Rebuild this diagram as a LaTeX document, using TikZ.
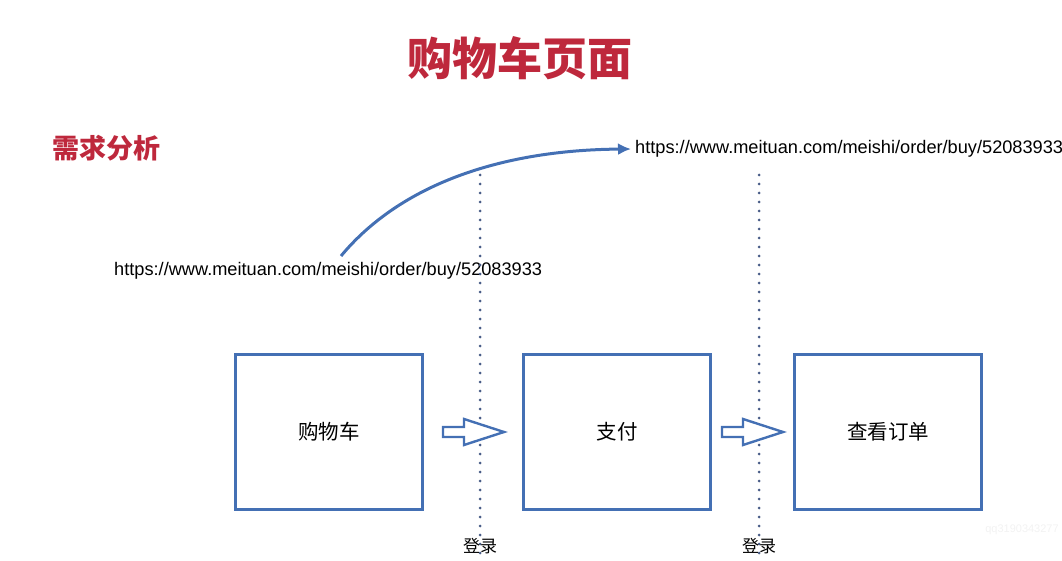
\documentclass[tikz,border=0pt]{standalone}
\usepackage{fontspec}
\setmainfont{Liberation Sans}
\newfontfamily\cjk{Noto Sans CJK SC}
\usetikzlibrary{arrows.meta,positioning}
\definecolor{titlered}{RGB}{190,40,60}
\definecolor{boxblue}{RGB}{68,112,180}
\definecolor{dotgray}{RGB}{72,92,135}
\tikzset{
  pagebox/.style={box/.style={draw=boxblue, line width=2.8pt, minimum width=187pt, minimum height=155pt, inner sep=0pt, font=\cjk\fontsize{20.5}{24}\selectfont}},
  url/.style={anchor=west, inner sep=0pt, font=\fontsize{18.2}{20}\selectfont},
  gate/.style={dotgray, line width=3pt, line cap=round, dash pattern=on 0pt off 9pt},
  login/.style={inner sep=0pt, font=\cjk\fontsize{17}{20}\selectfont},
  blockarrow/.style={draw=boxblue, line width=2.4pt, fill=white, line join=miter},
  flow/.style={boxblue, line width=3pt, -{Latex[length=13pt,width=12pt]}}
}
\begin{document}
\begin{tikzpicture}[x=1pt, y=-1pt, pagebox]
  \useasboundingbox (0,0) rectangle (1062,561);
  \node [text=titlered, font=\cjk\bfseries\fontsize{45}{50}\selectfont] (title) at (520,58) {购物车页面};
  \node [text=titlered, anchor=west, inner sep=0pt, font=\cjk\bfseries\fontsize{27}{30}\selectfont] (req) at (52,148) {需求分析};
  \node [url] (src) at (114,271) {https://www.meituan.com/meishi/order/buy/52083933};
  \node [url] (dst) at (635,149) {https://www.meituan.com/meishi/order/buy/52083933};
  \coordinate (from) at (341,256);
  \draw [flow] (from) .. controls (400,185) and (500,150) .. ([xshift=-4pt]dst.west);
  % dotted login gates
  \foreach \g in {480,759} {
    \coordinate (gate\g) at (\g,175);
    \coordinate (foot\g) at (\g,561);
    \draw [gate] (gate\g) -- (foot\g);
    \node [login] (login\g) at (\g,546) {登录};
  }
  \node [box] (cart) at (329,432) {购物车};
  \node [box] (pay) at (617,432) {支付};
  \node [box] (check) at (888,432) {查看订单};
  \foreach \g in {480,759}
    \draw [blockarrow] (\g,432) ++(-37,-5) -- ++(21,0) -- ++(0,-8) -- ++(40,13)
      -- ++(-40,13) -- ++(0,-8) -- ++(-21,0) -- cycle;
  \node [text=gray!10, inner sep=0pt, font=\fontsize{11}{12}\selectfont] (wm) at (1022,530) {qq3190343277};
\end{tikzpicture}
\end{document}
